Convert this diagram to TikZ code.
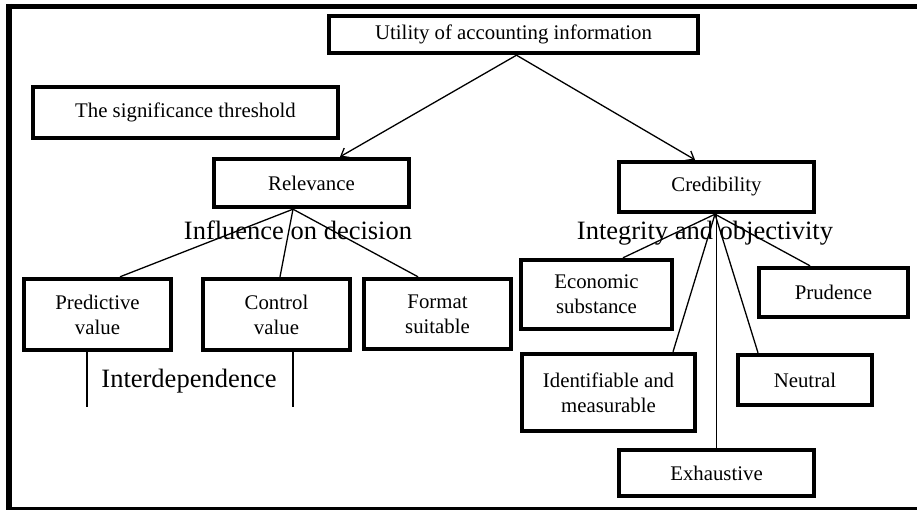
\documentclass[tikz,border=0pt]{standalone}
\usepackage{fontspec}
\setmainfont{Liberation Serif}
\usetikzlibrary{arrows.meta,calc}
\begin{document}
\begin{tikzpicture}[x=1pt,y=-1pt,
  box/.style={draw,line width=4.4pt,rectangle,inner sep=0pt,align=center,
    font=\fontsize{20.8}{25}\selectfont},
  link/.style={line width=1.3pt},
  arrowlink/.style={link,-{Straight Barb[length=7pt,width=11pt,line width=1.3pt]}},
  caption/.style={font=\fontsize{26.5}{30}\selectfont,inner sep=0pt,anchor=base}]
\useasboundingbox (0,0) rectangle (917,510);

% outer frame (open on the right)
\draw[line width=5pt] (6,6.5) -- (917,6.5);
\draw[line width=6pt] (9,4) -- (9,510);
\draw[line width=2.6pt] (6,508.7) -- (917,508.7);

% boxes
\node[box,minimum width=369,minimum height=37] (top)   at (513.5,34.5) {Utility of accounting information};
\node[box,minimum width=305,minimum height=51] (sig)   at (185.5,112.5) {The significance threshold};
\node[box,minimum width=195,minimum height=48] (rel)   at (311.5,183) {Relevance};
\node[box,minimum width=195,minimum height=50] (cred)  at (716.5,187) {Credibility};
\node[box,minimum width=147,minimum height=71] (pred)  at (97.5,314.5) {Predictive\\value};
\node[box,minimum width=147,minimum height=71] (ctrl)  at (276.5,314.5) {Control\\value};
\node[box,minimum width=147,minimum height=70] (fmt)   at (437.5,314) {Format\\suitable};
\node[box,minimum width=151,minimum height=69] (econ)  at (596.5,294.5) {Economic\\substance};
\node[box,minimum width=149,minimum height=49] (prud)  at (833.5,292.5) {Prudence};
\node[box,minimum width=173,minimum height=77] (ident) at (608.5,392.5) {Identifiable and\\measurable};
\node[box,minimum width=134,minimum height=50] (neut)  at (805,380) {Neutral};
\node[box,minimum width=195,minimum height=46] (exh)   at (716.5,473) {Exhaustive};

% captions
\node[caption] (infl)  at (298,240) {Influence on decision};
\node[caption] (integ) at (705,240) {Integrity and objectivity};
\node[caption] (inter) at (189,387) {Interdependence};

% hubs where the fans of connectors start
\coordinate (tophub)  at ($(top.south)+(3,0)$);
\coordinate (relhub)  at ($(rel.south)+(-18.5,0)$);
\coordinate (credhub) at ($(cred.south)+(-1.5,0)$);

% top level
\draw[arrowlink] (tophub) -- ($(rel.north)+(28.5,0)$);
\draw[arrowlink] (tophub) -- ($(cred.north)+(-21.5,0)$);

% relevance branch
\draw[link] (relhub) -- ($(pred.north)+(22.5,0)$);
\draw[link] (relhub) -- ($(ctrl.north)+(3.5,0)$);
\draw[link] (relhub) -- ($(fmt.north)+(-19.5,0)$);

% interdependence ticks
\coordinate (predend) at ($(pred.south)+(-10.5,55)$);
\coordinate (ctrlend) at ($(ctrl.south)+(16.5,55)$);
\draw[link] ($(pred.south)+(-10.5,0)$) -- (predend);
\draw[link] ($(ctrl.south)+(16.5,0)$) -- (ctrlend);

% credibility branch
\draw[link] (credhub) -- ($(econ.north)+(26.5,0)$);
\draw[link] (credhub) -- ($(ident.north)+(64.5,0)$);
\draw[link] (cred.south) -- (exh.north);
\draw[link] (credhub) -- ($(neut.north)+(-47,0)$);
\draw[link] (credhub) -- ($(prud.north)+(-23.5,0)$);
\end{tikzpicture}
\end{document}
